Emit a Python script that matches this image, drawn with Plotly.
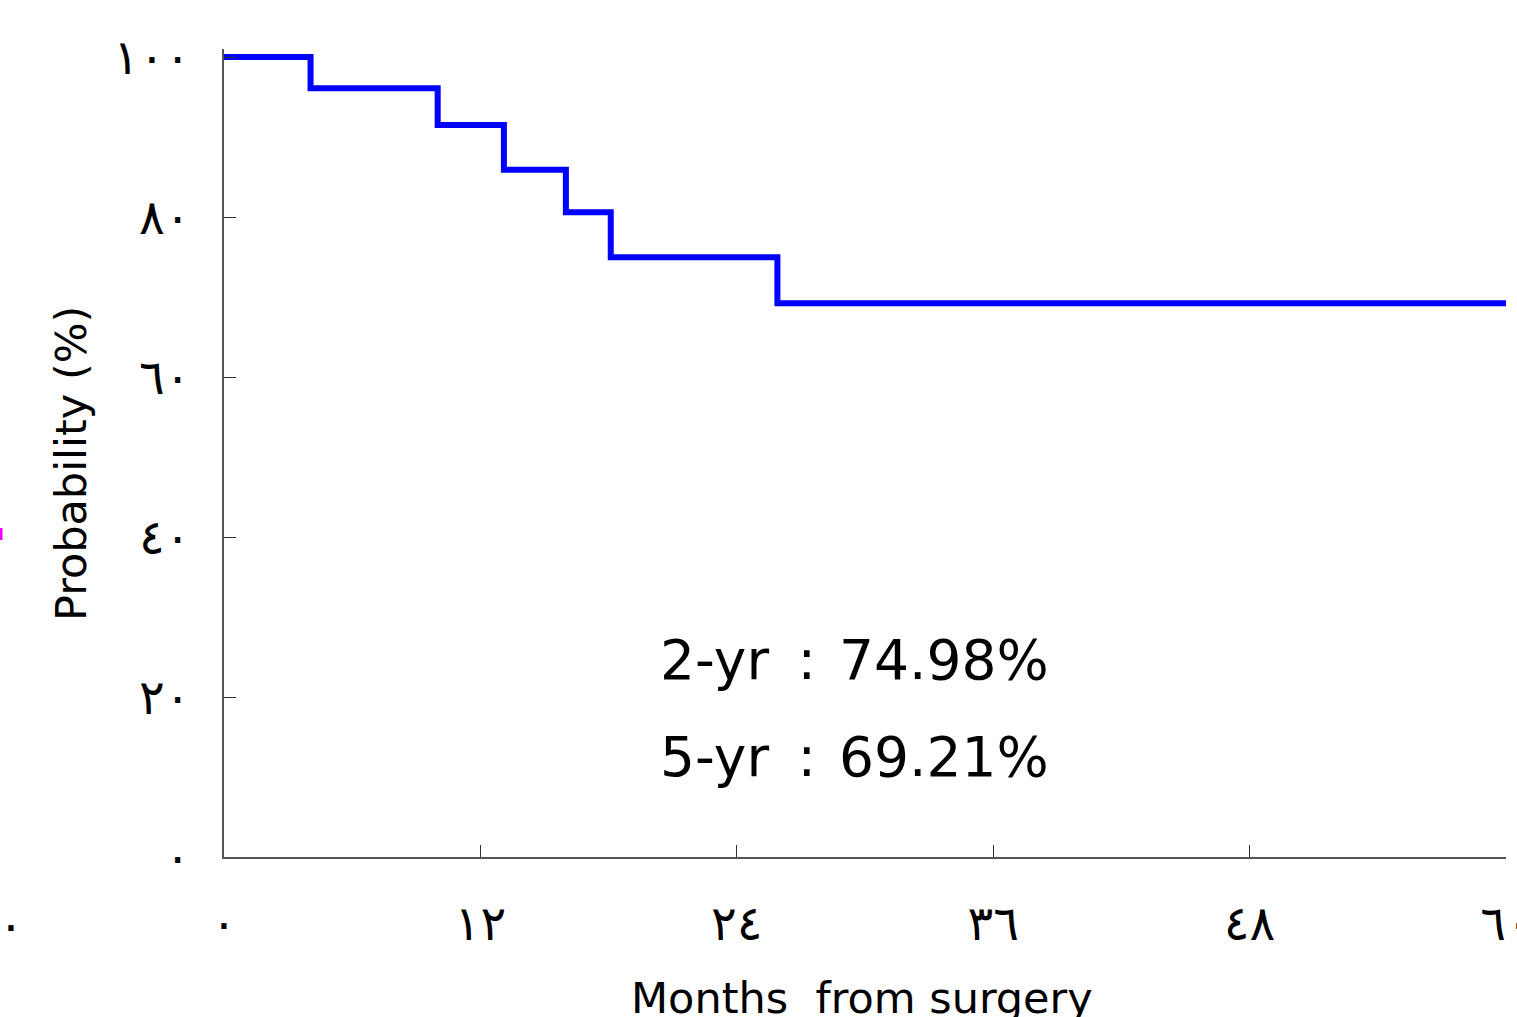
import plotly.graph_objects as go

# Kaplan-Meier estimate: event times (months) and survival probability (%)
months = [0, 4.05, 10.0, 13.1, 16.0, 18.1, 25.9, 60]
survival = [100, 96.1, 91.5, 85.9, 80.6, 74.98, 69.21, 69.21]

# milestone estimates shown in the plot
milestone_labels = ["2-yr", "5-yr"]
milestone_values = [74.98, 69.21]

x_ticks = [0, 12, 24, 36, 48, 60]
x_ticktext = ["٠", "١٢", "٢٤", "٣٦", "٤٨", "٦٠"]
y_ticks = [0, 20, 40, 60, 80, 100]
y_ticktext = ["٠", "٢٠", "٤٠", "٦٠", "٨٠", "١٠٠"]

W, H = 1517, 1017
L, R, T, B = 224, 11, 49, 160
FONT = "DejaVu Sans"
TICK_SIZE = 48

fig = go.Figure()
fig.add_trace(go.Scatter(
    x=months, y=survival, mode="lines",
    line=dict(color="#0000FF", width=6, shape="hv"),
    hoverinfo="skip", showlegend=False,
))

axis_common = dict(
    showgrid=False, zeroline=False, showline=True,
    linecolor="#555555", linewidth=1.5,
    ticks="inside", ticklen=12, tickwidth=1.2, tickcolor="#333333",
    tickfont=dict(family=FONT, size=TICK_SIZE, color="black"),
    ticklabeloverflow="allow",
)

fig.update_xaxes(range=[0, 60], tickvals=x_ticks, ticktext=x_ticktext,
                 ticklabelstandoff=24, **axis_common)
fig.update_yaxes(range=[0, 101], tickvals=y_ticks, ticktext=y_ticktext,
                 ticklabelstandoff=22, **axis_common)

pw, ph = W - L - R, H - T - B


def px(xp):
    return (xp - L) / pw


def py(yp):
    return (H - B - yp) / ph


annotations = [
    dict(text="Probability (%)", textangle=-90, x=px(71), y=py(464),
         xref="paper", yref="paper", xanchor="center", yanchor="middle",
         showarrow=False, font=dict(family=FONT, size=43, color="black")),
    dict(text="Months\u00a0 from surgery", x=px(862), y=py(998),
         xref="paper", yref="paper", xanchor="center", yanchor="middle",
         showarrow=False, font=dict(family=FONT, size=43, color="black")),
    dict(text="٠", x=px(11), y=py(925), xref="paper", yref="paper",
         xanchor="center", yanchor="middle", showarrow=False,
         font=dict(family=FONT, size=TICK_SIZE, color="black")),
]
for i, (lab, val) in enumerate(zip(milestone_labels, milestone_values)):
    annotations.append(dict(
        text=f"{lab} \u2009: \u200a{val:.2f}%", x=20.3, y=24.6 - i * 12.1,
        xref="x", yref="y", xanchor="left", yanchor="middle",
        showarrow=False, font=dict(family=FONT, size=55, color="black"),
    ))

fig.update_layout(
    width=W, height=H,
    margin=dict(l=L, r=R, t=T, b=B, autoexpand=False),
    paper_bgcolor="white", plot_bgcolor="white",
    annotations=annotations,
    shapes=[dict(type="line", xref="paper", yref="paper",
                 x0=px(1), x1=px(1), y0=py(528), y1=py(540),
                 line=dict(color="#FF00FF", width=3))],
)

fig.write_html("out.html")
